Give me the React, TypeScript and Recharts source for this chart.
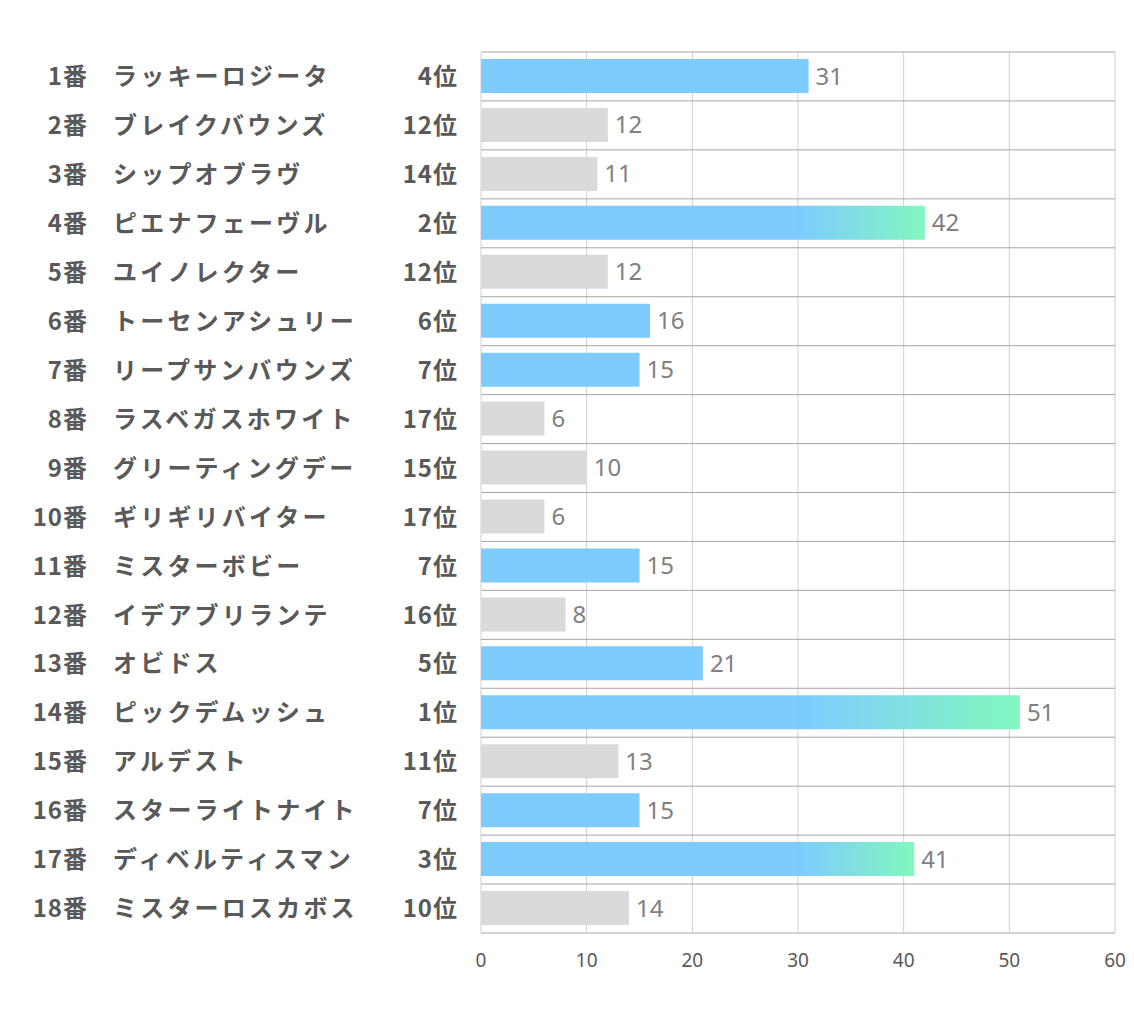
import { Bar, BarChart, CartesianGrid, Cell, LabelList, XAxis, YAxis } from "recharts";

const horseNums = ["1番", "2番", "3番", "4番", "5番", "6番", "7番", "8番", "9番", "10番", "11番", "12番", "13番", "14番", "15番", "16番", "17番", "18番"];
const horseNames = [
  "ラッキーロジータ",
  "ブレイクバウンズ",
  "シップオブラヴ",
  "ピエナフェーヴル",
  "ユイノレクター",
  "トーセンアシュリー",
  "リープサンバウンズ",
  "ラスベガスホワイト",
  "グリーティングデー",
  "ギリギリバイター",
  "ミスターボビー",
  "イデアブリランテ",
  "オビドス",
  "ピックデムッシュ",
  "アルデスト",
  "スターライトナイト",
  "ディベルティスマン",
  "ミスターロスカボス",
];
const ranks = [4, 12, 14, 2, 12, 6, 7, 17, 15, 17, 7, 16, 5, 1, 11, 7, 3, 10];
const scores = [31, 12, 11, 42, 12, 16, 15, 6, 10, 6, 15, 8, 21, 51, 13, 15, 41, 14];
const xTicks = [0, 10, 20, 30, 40, 50, 60];

const BLUE = "#78C9FF";
const GREEN = "#7EF7BC";
const GRAY = "#D9D9D9";
const TEXT = "#595959";
const JP_FONT = "'Noto Sans CJK JP', 'Noto Sans', sans-serif";

const data = horseNums.map((num, i) => ({
  num,
  name: horseNames[i],
  rank: ranks[i],
  value: scores[i],
}));

function fillFor(i: number) {
  if (ranks[i] <= 3) return `url(#grad-${i})`;
  if (ranks[i] <= 7) return BLUE;
  return GRAY;
}

function RowLabel(props: any) {
  const { y, payload } = props;
  const row = data.find((d) => d.num === payload.value);
  if (!row) return null;
  const common = {
    y,
    dy: "0.36em",
    fill: TEXT,
    fontSize: 24,
    fontWeight: 700,
    fontFamily: JP_FONT,
  };
  return (
    <g>
      <text {...common} x={88} textAnchor="end" letterSpacing={1}>
        {row.num}
      </text>
      <text {...common} x={113} textAnchor="start" letterSpacing={3.2}>
        {row.name}
      </text>
      <text {...common} x={458} textAnchor="end" letterSpacing={1}>
        {row.rank}位
      </text>
    </g>
  );
}

function ScoreTick(props: any) {
  const { x, payload } = props;
  return (
    <text
      x={x}
      y={960}
      dy="0.36em"
      textAnchor="middle"
      fill={TEXT}
      fontSize={19}
      fontFamily="'Liberation Sans Narrow', 'Noto Sans', sans-serif"
    >
      {payload.value}
    </text>
  );
}

export default function App() {
  return (
    <div style={{ position: "absolute", left: 0, top: 0, width: 1134, height: 1020, background: "#fff" }}>
      <BarChart
        width={1134}
        height={1000}
        data={data}
        layout="vertical"
        margin={{ top: 52, right: 19, bottom: 0, left: 0 }}
        barSize={34}
      >
        <defs>
          {data.map((d, i) =>
            ranks[i] <= 3 ? (
              <linearGradient key={d.num} id={`grad-${i}`} x1="0" y1="0" x2="1" y2="0">
                <stop offset="0" stopColor={BLUE} />
                <stop offset={30 / d.value} stopColor={BLUE} />
                <stop offset="1" stopColor={GREEN} />
              </linearGradient>
            ) : null
          )}
        </defs>
        <CartesianGrid stroke="#D0D0D0" horizontal={false} vertical />
        <CartesianGrid
          stroke="#A6A6A6"
          vertical={false}
          horizontalCoordinatesGenerator={({ offset }: any) =>
            data.map((_, i) => offset.top + (i * offset.height) / data.length).concat(offset.top + offset.height)
          }
        />
        <XAxis
          type="number"
          domain={[0, 60]}
          ticks={xTicks}
          axisLine={false}
          tickLine={false}
          height={67}
          interval={0}
          tick={<ScoreTick />}
        />
        <YAxis
          type="category"
          dataKey="num"
          width={481}
          axisLine={false}
          tickLine={false}
          interval={0}
          tick={<RowLabel />}
        />
        <Bar dataKey="value" isAnimationActive={false} fillOpacity={0.96}>
          {data.map((d, i) => (
            <Cell key={d.num} fill={fillFor(i)} />
          ))}
          <LabelList
            dataKey="value"
            position="right"
            offset={7}
            fill="#808080"
            fontSize={24}
            fontFamily="'Noto Sans', sans-serif"
          />
        </Bar>
      </BarChart>
    </div>
  );
}
